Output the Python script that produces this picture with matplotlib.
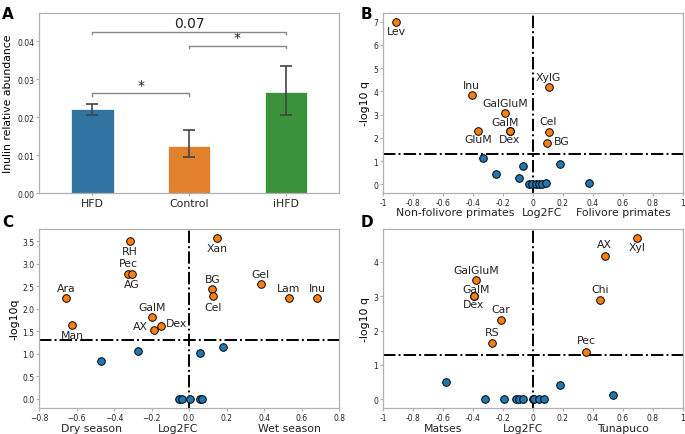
import matplotlib
matplotlib.use("Agg")
import matplotlib.pyplot as plt
import matplotlib.transforms as mtransforms

plt.rcParams['font.family'] = ['DejaVu Sans']

# ---------------- Data ----------------
# Panel A
groups = ["HFD", "Control", "iHFD"]
abund = [0.0222, 0.0125, 0.0267]
err_low = [0.0206, 0.0094, 0.0206]
err_high = [0.0233, 0.0167, 0.0333]
bar_colors = ["#3274a1", "#e1812c", "#3a923a"]

# Panel B (Non-folivore vs Folivore primates)
b_sig_x = [-0.913, -0.407, 0.104, -0.185, -0.367, -0.153, -0.153, 0.104, 0.097]
b_sig_y = [7.0, 3.83, 4.19, 3.06, 2.30, 2.30, 2.30, 2.27, 1.80]
b_sig_lab = ["Lev", "Inu", "XylG", "GalGluM", "GluM", "GalM", "Dex", "Cel", "BG"]
b_lab_x = [-0.913, -0.407, 0.104, -0.185, -0.367, -0.183, -0.153, 0.104, 0.19]
b_lab_y = [6.62, 4.28, 4.64, 3.49, 1.94, 2.70, 1.94, 2.72, 1.88]
b_ns_x = [-0.333, -0.067, 0.182, -0.243, -0.091, 0.371, -0.029, -0.007, 0.02, 0.042, 0.06, 0.087]
b_ns_y = [1.13, 0.78, 0.87, 0.43, 0.26, 0.07, 0.0, 0.0, 0.0, 0.0, 0.02, 0.06]

# Panel C (Dry vs Wet season)
c_sig_x = [-0.315, 0.151, -0.328, -0.306, -0.657, -0.624, -0.196, -0.185, -0.151, 0.125, 0.130, 0.383, 0.533, 0.684]
c_sig_y = [3.51, 3.57, 2.77, 2.77, 2.23, 1.65, 1.81, 1.52, 1.61, 2.44, 2.28, 2.55, 2.23, 2.23]
c_sig_lab = ["RH", "Xan", "Pec", "AG", "Ara", "Man", "GalM", "AX", "Dex", "BG", "Cel", "Gel", "Lam", "Inu"]
c_lab_x = [-0.315, 0.151, -0.326, -0.308, -0.657, -0.624, -0.196, -0.262, -0.069, 0.126, 0.130, 0.383, 0.533, 0.684]
c_lab_y = [3.29, 3.34, 3.01, 2.55, 2.46, 1.42, 2.03, 1.61, 1.68, 2.66, 2.04, 2.77, 2.46, 2.46]
c_ns_x = [-0.472, -0.274, 0.061, 0.180, -0.052, -0.037, 0.005, 0.061, 0.071]
c_ns_y = [0.85, 1.06, 1.02, 1.15, 0.0, 0.0, 0.0, 0.0, 0.0]

# Panel D (Matses vs Tunapuco)
d_sig_x = [0.695, 0.479, 0.445, 0.354, -0.379, -0.396, -0.396, -0.212, -0.270]
d_sig_y = [4.69, 4.18, 2.90, 1.39, 3.46, 3.01, 3.01, 2.32, 1.63]
d_sig_lab = ["Xyl", "AX", "Chi", "Pec", "GalGluM", "GalM", "Dex", "Car", "RS"]
d_lab_x = [0.695, 0.479, 0.445, 0.354, -0.379, -0.379, -0.396, -0.212, -0.270]
d_lab_y = [4.44, 4.52, 3.22, 1.72, 3.77, 3.22, 2.78, 2.64, 1.96]
d_ns_x = [-0.577, 0.178, 0.535, -0.318, -0.196, -0.114, -0.096, -0.069, 0.0, 0.01, 0.04, 0.077]
d_ns_y = [0.51, 0.43, 0.13, 0.0, 0.0, 0.0, 0.0, 0.0, 0.0, 0.0, 0.0, 0.0]

hyphen_ticks = [-1, -0.8, -0.6, -0.4, -0.2, 0, 0.2, 0.4, 0.6, 0.8, 1]
hyphen_labels = ["-1", "-0.8", "-0.6", "-0.4", "-0.2", "0", "0.2", "0.4", "0.6", "0.8", "1"]

ORANGE = "#ff7f0e"
BLUE = "#1f77b4"
SPINE = "#b0b0b0"
TICK_FS = 5.5
LAB_FS = 7.8
PT_FS = 7.8

fig = plt.figure(figsize=(6.85, 4.35), dpi=100)
axA = fig.add_axes([0.057, 0.554, 0.438, 0.414])
axB = fig.add_axes([0.559, 0.554, 0.438, 0.414])
axC = fig.add_axes([0.057, 0.060, 0.438, 0.411])
axD = fig.add_axes([0.559, 0.060, 0.438, 0.411])


def style(ax):
    for s in ax.spines.values():
        s.set_color(SPINE)
        s.set_linewidth(0.9)
    ax.tick_params(colors=SPINE, labelcolor="#222222", labelsize=TICK_FS,
                   length=2.5, width=0.8, pad=1.0)


# ---------------- Panel A ----------------
style(axA)
xs = list(range(len(groups)))
axA.bar(xs, abund, width=0.44, color=bar_colors, edgecolor="white", linewidth=0.5, zorder=2)
yerr = [[a - l for a, l in zip(abund, err_low)], [h - a for a, h in zip(abund, err_high)]]
axA.errorbar(xs, abund, yerr=yerr, fmt="none", ecolor="#444444", elinewidth=1.2,
             capsize=4, capthick=1.2, zorder=3)
axA.set_xlim(-0.55, 2.55)
axA.set_ylim(0, 0.0474)
axA.set_yticks([0.0, 0.01, 0.02, 0.03, 0.04])
axA.set_yticklabels(["0.00", "0.01", "0.02", "0.03", "0.04"])
axA.set_xticks(xs)
axA.set_xticklabels(groups, fontsize=LAB_FS)
axA.set_ylabel("Inulin relative abundance", fontsize=LAB_FS, labelpad=3)


def bracket(ax, x1, x2, y, text, fs, ty):
    d = 0.0007
    ax.plot([x1, x1, x2, x2], [y - d, y, y, y - d], color="#888888", lw=1.0, zorder=4)
    ax.text((x1 + x2) / 2, ty, text, ha="center", va="center", fontsize=fs, color="#222222")


bracket(axA, 0, 1, 0.0263, "*", 10, 0.0285)
bracket(axA, 1, 2, 0.0388, "*", 10, 0.0410)
bracket(axA, 0, 2, 0.0425, "0.07", 10, 0.0448)


# ---------------- Volcano panels ----------------
def volcano(ax, sx, sy, labs, lx, ly, nx, ny, xlim, ylim, yticks):
    style(ax)
    ax.set_xlim(*xlim)
    ax.set_ylim(*ylim)
    ax.axhline(1.3, color="black", lw=1.4, ls="-.", zorder=1)
    ax.axvline(0, color="black", lw=1.4, ls="-.", zorder=1)
    ax.scatter(nx, ny, s=30, color=BLUE, edgecolors="black", linewidths=0.7, zorder=3)
    ax.scatter(sx, sy, s=30, color=ORANGE, edgecolors="black", linewidths=0.7, zorder=3)
    for t, x, y in zip(labs, lx, ly):
        ax.text(x, y, t, ha="center", va="center", fontsize=PT_FS, color="#222222", zorder=4)
    ax.set_yticks(yticks)


def xlabels(ax, items, ypos):
    trans = mtransforms.blended_transform_factory(ax.transData, ax.transAxes)
    for t, x in items:
        ax.text(x, ypos, t, transform=trans, ha="center", va="center", fontsize=LAB_FS,
                color="#222222", clip_on=False)


volcano(axB, b_sig_x, b_sig_y, b_sig_lab, b_lab_x, b_lab_y, b_ns_x, b_ns_y,
        (-1, 1), (-0.37, 7.38), [0, 1, 2, 3, 4, 5, 6, 7])
axB.set_xticks(hyphen_ticks)
axB.set_xticklabels(hyphen_labels)
axB.set_ylabel("-log10 q", fontsize=LAB_FS, labelpad=2)
xlabels(axB, [("Non-folivore primates", -0.52), ("Log2FC", 0.06), ("Folivore primates", 0.60)], -0.108)

volcano(axC, c_sig_x, c_sig_y, c_sig_lab, c_lab_x, c_lab_y, c_ns_x, c_ns_y,
        (-0.8, 0.8), (-0.2, 3.77), [0.0, 0.5, 1.0, 1.5, 2.0, 2.5, 3.0, 3.5])
axC.set_xticks([-0.8, -0.6, -0.4, -0.2, 0.0, 0.2, 0.4, 0.6, 0.8])
axC.set_xticklabels(["\u22120.8", "\u22120.6", "\u22120.4", "\u22120.2", "0.0", "0.2", "0.4", "0.6", "0.8"])
axC.set_yticklabels(["0.0", "0.5", "1.0", "1.5", "2.0", "2.5", "3.0", "3.5"])
axC.set_ylabel("-log10q", fontsize=LAB_FS, labelpad=2)
xlabels(axC, [("Dry season", -0.52), ("Log2FC", -0.06), ("Wet season", 0.535)], -0.112)

volcano(axD, d_sig_x, d_sig_y, d_sig_lab, d_lab_x, d_lab_y, d_ns_x, d_ns_y,
        (-1, 1), (-0.25, 4.95), [0, 1, 2, 3, 4])
axD.set_xticks(hyphen_ticks)
axD.set_xticklabels(hyphen_labels)
axD.set_ylabel("-log10 q", fontsize=LAB_FS, labelpad=2)
xlabels(axD, [("Matses", -0.60), ("Log2FC", -0.067), ("Tunapuco", 0.60)], -0.112)

# Panel letters
for t, x, y in [("A", 0.003, 0.985), ("B", 0.527, 0.985), ("C", 0.003, 0.505), ("D", 0.527, 0.505)]:
    fig.text(x, y, t, fontsize=11, fontweight="bold", ha="left", va="top")

fig.savefig("out.png", dpi=100)
